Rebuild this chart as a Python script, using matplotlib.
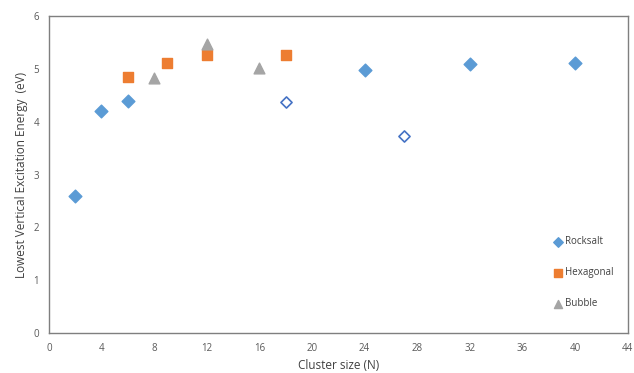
import matplotlib.pyplot as plt

plt.rcParams['font.family'] = ['Open Sans', 'DejaVu Sans']

# data
rock_n = [2, 4, 6, 24, 32, 40]
rock_e = [2.60, 4.20, 4.40, 4.98, 5.10, 5.12]
rock_open_n = [18, 27]
rock_open_e = [4.37, 3.73]
hex_n = [6, 9, 12, 18]
hex_e = [4.84, 5.12, 5.27, 5.27]
bub_n = [8, 12, 16]
bub_e = [4.83, 5.48, 5.01]

xticks = list(range(0, 45, 4))
yticks = list(range(0, 7))

fig = plt.figure(figsize=(6.34, 3.73), dpi=100)
ax = fig.add_axes([0.077, 0.107, 0.913, 0.85])

ax.scatter(rock_n, rock_e, marker='D', s=42, color='#5B9BD5', label='Rocksalt', zorder=3)
ax.scatter(rock_open_n, rock_open_e, marker='D', s=32, facecolor='white',
           edgecolor='#4472C4', linewidths=1.2, zorder=3)
ax.scatter(hex_n, hex_e, marker='s', s=60, color='#ED7D31', label='Hexagonal', zorder=3)
ax.scatter(bub_n, bub_e, marker='^', s=60, color='#A5A5A5', label='Bubble', zorder=3)

ax.set_xlim(0, 44)
ax.set_ylim(0, 6)
ax.set_xticks(xticks)
ax.set_yticks(yticks)
ax.tick_params(length=0, labelsize=7, colors='#595959', pad=7)
for sp in ax.spines.values():
    sp.set_color('#7f7f7f')
    sp.set_linewidth(1.0)

ax.set_xlabel('Cluster size (N)', fontsize=8.5, color='#404040')
ax.set_ylabel('Lowest Vertical Excitation Energy  (eV)', fontsize=8.5, color='#404040')

leg = ax.legend(loc='center left', bbox_to_anchor=(0.855, 0.19), frameon=False,
                fontsize=7, labelspacing=2.05, handletextpad=-0.3,
                markerscale=0.75, borderpad=0)
for t in leg.get_texts():
    t.set_color('#404040')

fig.savefig('out.png', dpi=100)
